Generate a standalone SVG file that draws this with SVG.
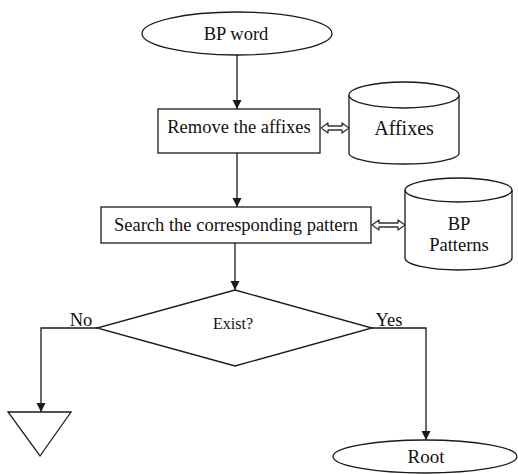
<svg xmlns="http://www.w3.org/2000/svg" width="518" height="474" viewBox="0 0 518 474">
  <style>
    .shape { fill: #ffffff; stroke: #1a1a1a; stroke-width: 1.3; }
    .line { fill: none; stroke: #1a1a1a; stroke-width: 1.3; }
    .dbl { fill: #ffffff; stroke: #333333; stroke-width: 1.3; stroke-linejoin: round; }
    .label { font-family: "Liberation Serif", "Times New Roman", serif; font-size: 18.5px; fill: #111111; text-anchor: middle; }
    .small { font-size: 16px; }
  </style>
  <defs>
    <marker id="arrow" viewBox="0 0 10 10" refX="10" refY="5" markerWidth="9" markerHeight="10" markerUnits="userSpaceOnUse" orient="auto">
      <path d="M0,0 L10,5 L0,10 Z" fill="#1a1a1a"/>
    </marker>
  </defs>

  <rect width="518" height="474" fill="#ffffff"/>

  <!-- connectors -->
  <g id="connectors">
    <path class="line" d="M237,55 V109" marker-end="url(#arrow)"/>
    <path class="line" d="M237,153 V207" marker-end="url(#arrow)"/>
    <path class="line" d="M235,243 V290" marker-end="url(#arrow)"/>
    <path class="line" d="M97,328 H41 V412" marker-end="url(#arrow)"/>
    <path class="line" d="M372,328 H426 V440" marker-end="url(#arrow)"/>
    <!-- hollow two-way arrows to the data stores -->
    <path class="dbl" d="M321,128 L328,123 V126 H342 V123 L349,128 L342,133 V130 H328 V133 Z"/>
    <path class="dbl" d="M372,225 L379,220 V223 H398 V220 L405,225 L398,230 V227 H379 V230 Z"/>
    <text class="label" x="81" y="326">No</text>
    <text class="label" x="389" y="326">Yes</text>
  </g>

  <g id="bp-word">
    <ellipse class="shape" cx="237" cy="33.5" rx="95" ry="21.5"/>
    <text class="label" x="236" y="40">BP word</text>
  </g>

  <g id="remove-affixes">
    <rect class="shape" x="158" y="109" width="162" height="44"/>
    <text class="label" x="239" y="133">Remove the affixes</text>
  </g>

  <g id="affixes">
    <path class="shape" d="M349,95 V153 A55,11 0 0 0 459,153 V95"/>
    <ellipse class="shape" cx="404" cy="95" rx="55" ry="13"/>
    <text class="label" x="404" y="135" style="font-size:20px">Affixes</text>
  </g>

  <g id="search-pattern">
    <rect class="shape" x="101" y="207" width="270" height="36"/>
    <text class="label" x="236" y="231">Search the corresponding pattern</text>
  </g>

  <g id="bp-patterns">
    <path class="shape" d="M405,190 V258 A53.5,12 0 0 0 512,258 V190"/>
    <ellipse class="shape" cx="458.5" cy="190" rx="53.5" ry="12"/>
    <text class="label" x="459" y="230" style="font-size:18.5px">BP</text>
    <text class="label" x="459" y="251" style="font-size:18.5px">Patterns</text>
  </g>

  <g id="exist">
    <polygon class="shape" points="235,290 372,328 235,366 97,328"/>
    <text class="label small" x="233" y="329">Exist?</text>
  </g>

  <g id="terminator">
    <polygon class="shape" points="8,412 71,412 40,456"/>
  </g>

  <g id="root">
    <ellipse class="shape" cx="425" cy="456.5" rx="92" ry="16.5"/>
    <text class="label" x="426" y="463" style="font-size:19px">Root</text>
  </g>
</svg>
